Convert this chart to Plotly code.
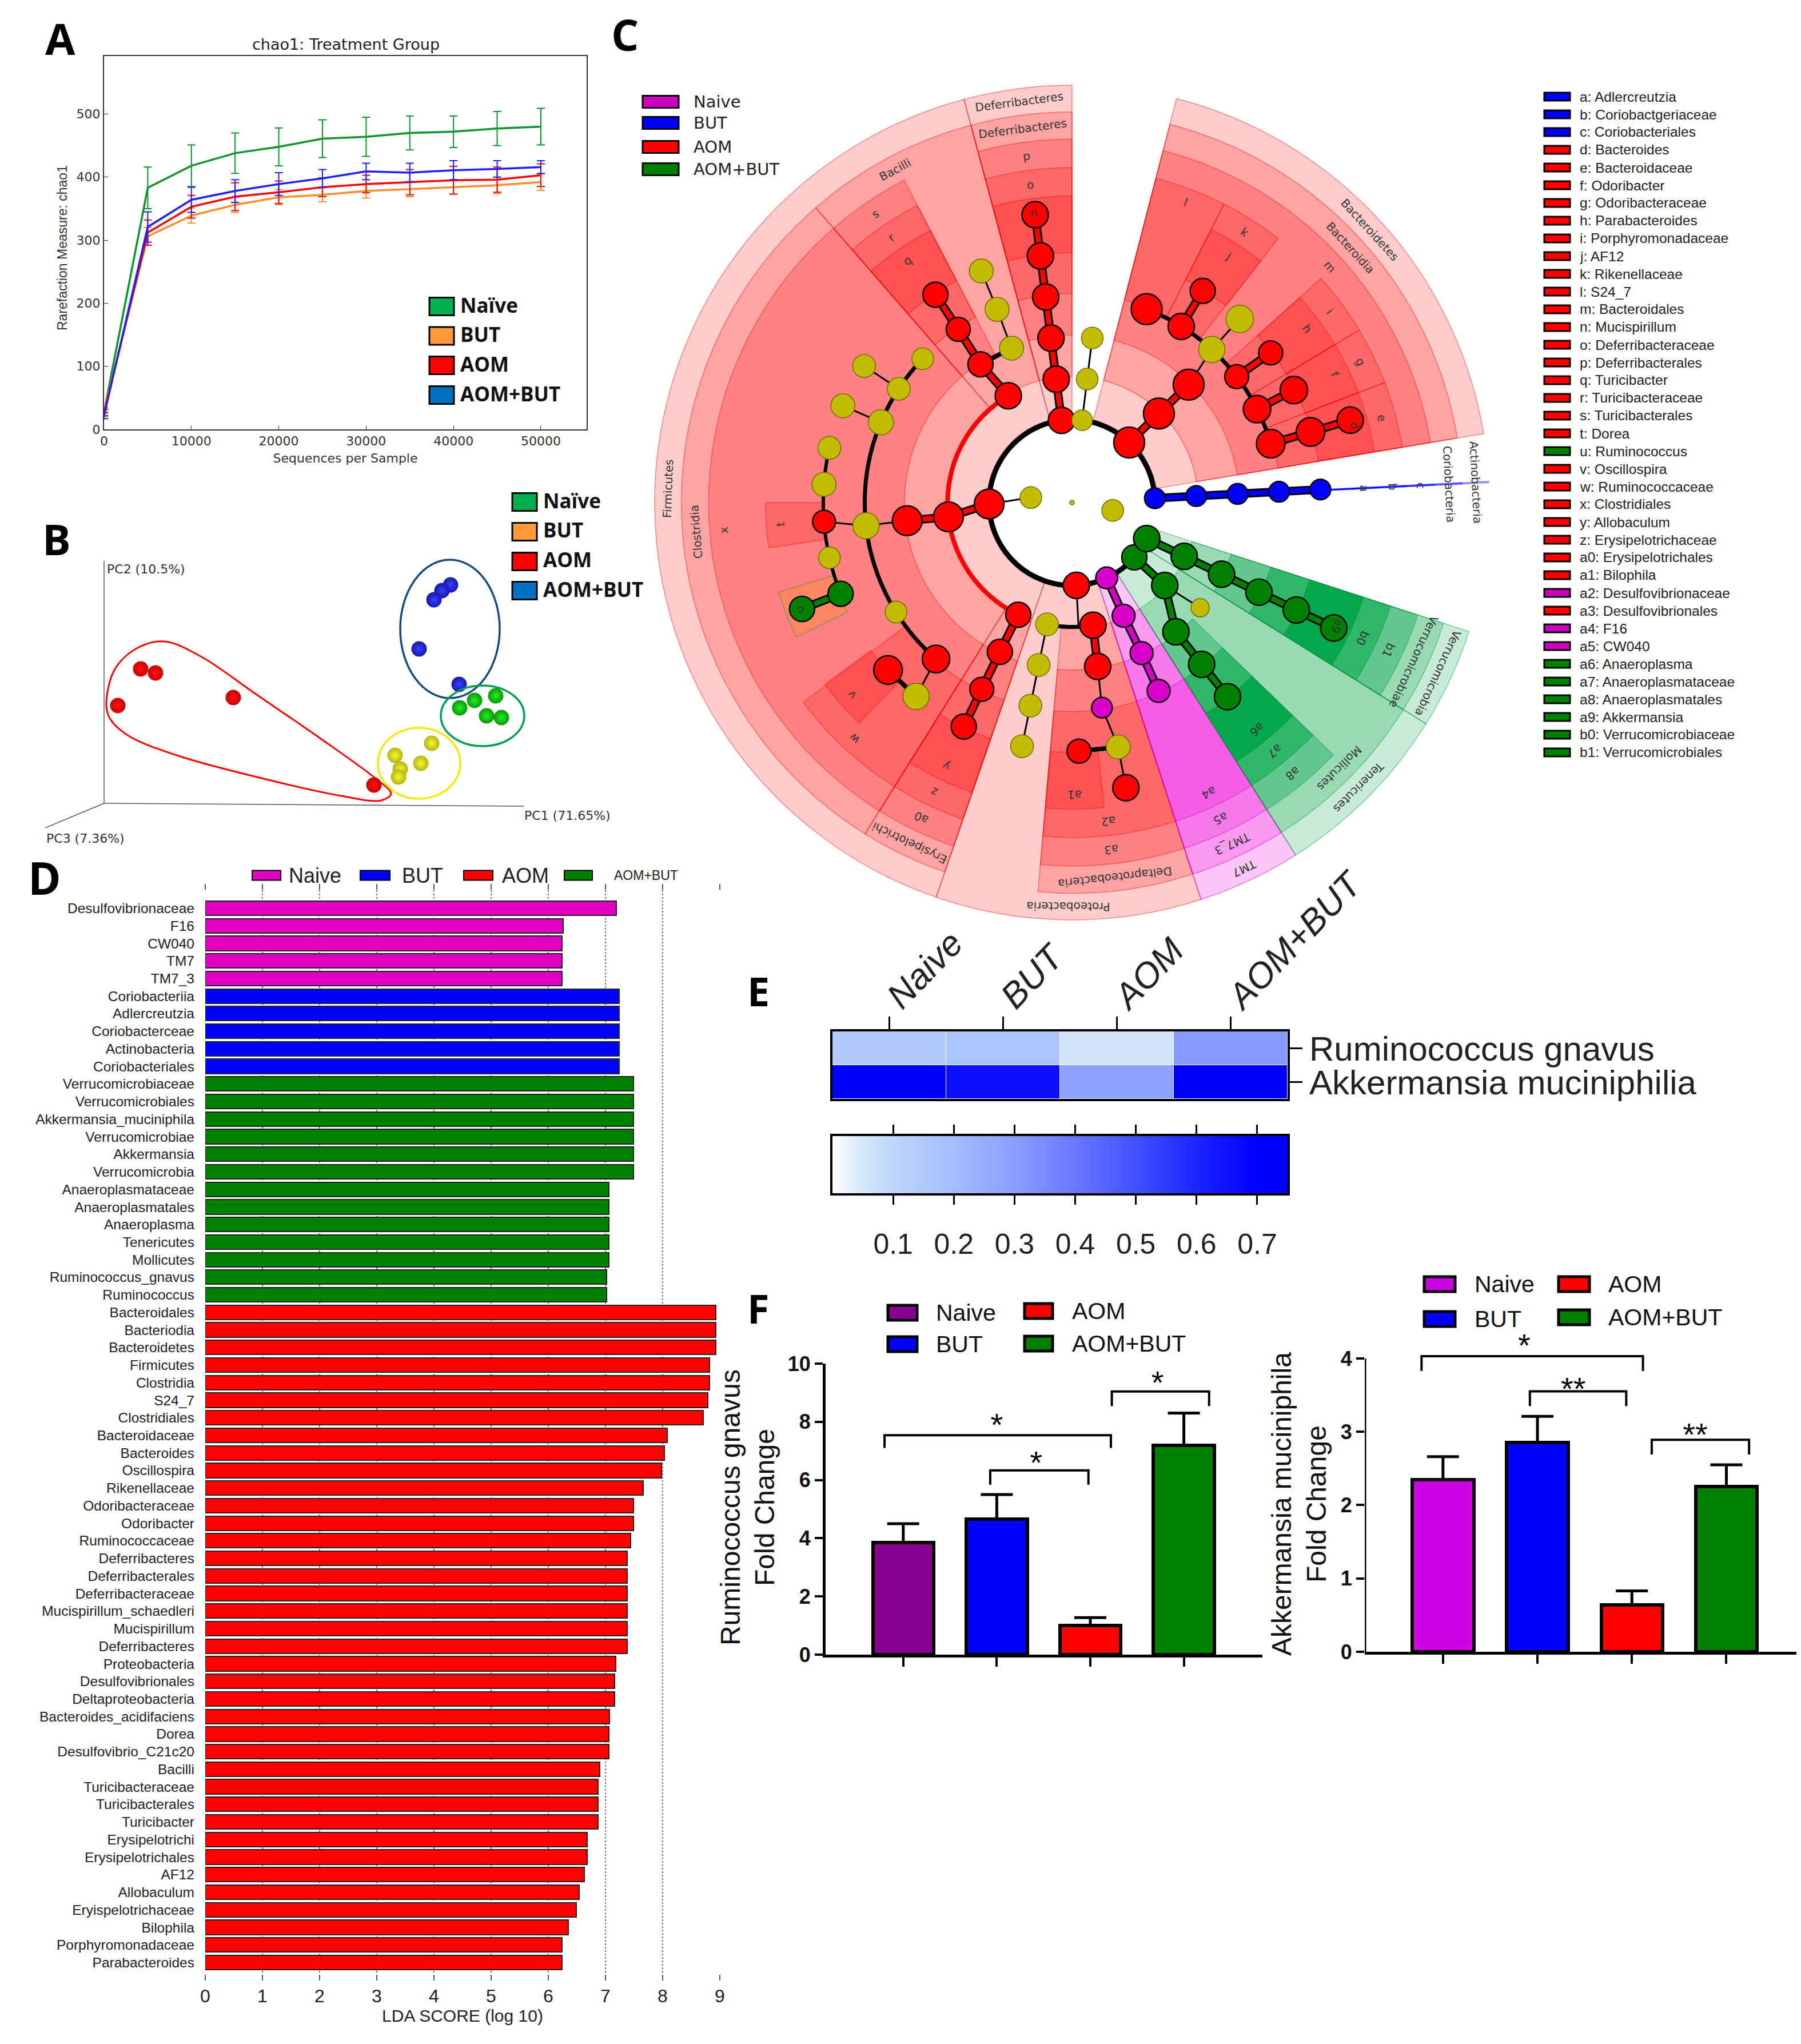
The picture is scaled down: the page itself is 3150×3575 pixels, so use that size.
import numpy as np
import plotly.graph_objects as go

W, H = 3150, 3575
OFF = 8  # the page body adds this much on the top and left
def dx(a, b): return [(a - OFF) / W, (b - OFF) / W]
def dy(top, bottom): return [1 - (bottom - OFF) / H, 1 - (top - OFF) / H]
def px(x): return (x - OFF) / W
def py(y): return 1 - (y - OFF) / H

SANS = "Liberation Sans"
DJ = "DejaVu Sans"
OPEN = "Open Sans"
GROUP_COLORS = {"Naive": "#d800c8", "BUT": "#0000ff", "AOM": "#ff0000", "AOM+BUT": "#008000", "ns": "#c4bc00"}

# ---------- A: rarefaction ----------
seqs = [0, 5000, 10000, 15000, 20000, 25000, 30000, 35000, 40000, 45000, 50000]
chao_naive = [28, 383, 418, 438, 448, 461, 464, 470, 472, 477, 480]
chao_naive_err = [6, 33, 33, 32, 30, 30, 31, 27, 25, 27, 29]
chao_aombut = [22, 321, 364, 378, 389, 398, 409, 407, 411, 413, 416]
chao_aombut_err = [5, 24, 20, 18, 18, 14, 13, 15, 15, 13, 10]
chao_aom = [26, 312, 353, 369, 376, 384, 389, 392, 395, 396, 403]
chao_aom_err = [5, 20, 18, 22, 18, 15, 14, 20, 22, 20, 18]
chao_but = [30, 306, 339, 356, 368, 372, 378, 381, 384, 387, 392]
chao_but_err = [5, 14, 12, 12, 12, 11, 11, 12, 11, 13, 13]

# ---------- B: PCoA ----------
pc_aom_1 = [24, 64, 90, 226, 472]
pc_aom_2 = [171, 235, 228, 185, 32]
pc_aombut_1 = [606, 591, 577, 551, 621]
pc_aombut_2 = [382, 372, 356, 270, 208]
pc_naive_1 = [622, 648, 685, 669, 695]
pc_naive_2 = [167, 180, 188, 153, 150]
pc_but_1 = [509, 518, 515, 554, 573]
pc_but_2 = [84, 60, 46, 70, 105]
aom_hull_1 = [4, 18, 57, 106, 169, 267, 379, 478, 502, 485, 415, 267, 127, 43, 11, 4]
aom_hull_2 = [171, 233, 271, 283, 257, 190, 113, 41, 17, 5, 13, 46, 84, 118, 147, 171]

# ---------- C: cladogram ----------
clade_label = ["Deferribacteres", "Firmicutes", "Proteobacteria", "TM7", "Tenericutes", "Verrucomicrobia", "Actinobacteria", "Bacteroidetes",
               "Deferribacteres", "Bacilli", "Clostridia", "Erysipelotrichi", "Deltaproteobacteria", "TM7_3", "Mollicutes", "Verrucomicrobiae", "Coriobacteria", "Bacteroidia",
               "p", "s", "x", "a0", "a3", "a5", "a8", "b1", "c", "m",
               "o", "r", "w", "z", "a2", "a4", "a7", "b0", "b", "e", "g", "i", "k", "l",
               "n", "q", "t", "u", "v", "y", "a1", "a6", "a9", "a", "d", "f", "h", "j"]
clade_lo = [90, 105, 251, 288, 302.4, 328, 2.7, 9.5,
            90, 105, 131, 238, 265, 288, 302.4, 328, 2.7, 9.5,
            90, 117.5, 131, 238, 265, 288, 302.4, 328, 2.7, 9.5,
            90, 117.5, 216.6, 238, 265, 288, 302.4, 328, 2.7, 9.5, 21, 31, 52, 63,
            90, 117.5, 180, 197, 216.3, 238, 265, 302.4, 328, 2.7, 9.5, 21, 31, 52]
clade_hi = [105, 251, 288, 302.4, 328, 342, 2.95, 75.5,
            105, 131, 238, 251, 288, 302.4, 328, 342, 2.95, 75.5,
            105, 131, 238, 251, 288, 302.4, 316, 342, 2.95, 75.5,
            105, 131, 238, 251, 288, 302.4, 316, 342, 2.95, 21, 31, 42, 63, 75.5,
            105, 131, 188.5, 206, 226, 251, 276, 316, 342, 2.95, 21, 31, 42, 63]
clade_rank = [1] * 8 + [2] * 10 + [3] * 10 + [4] * 14 + [5] * 14
clade_group = ["AOM", "AOM", "AOM", "Naive", "AOM+BUT", "AOM+BUT", "BUT", "AOM",
               "AOM", "AOM", "AOM", "AOM", "AOM", "Naive", "AOM+BUT", "AOM+BUT", "BUT", "AOM",
               "AOM", "AOM", "AOM", "AOM", "AOM", "Naive", "AOM+BUT", "AOM+BUT", "BUT", "AOM",
               "AOM", "AOM", "AOM", "AOM", "AOM", "Naive", "AOM+BUT", "AOM+BUT", "BUT", "AOM", "AOM", "AOM", "AOM", "AOM",
               "AOM", "AOM", "AOM", "AOM+BUT", "AOM", "AOM", "AOM", "AOM+BUT", "AOM+BUT", "BUT", "AOM", "AOM", "AOM", "AOM"]
rank_inner = {1: 150, 2: 222, 3: 295, 4: 368, 5: 440}
rank_outer = {1: 735, 2: 688, 3: 640, 4: 590, 5: 540}

node_theta = [0, 349, 173, 181,
              3, 3, 3, 3, 3,
              46.4, 45.7, 45.3, 47.6, 58.2, 68.9, 58.3, 47.6, 37.4, 37, 26.8, 26.9, 16.5, 16.5, 16.5,
              97.3, 97.3, 97.3, 97.3, 97.3, 97.3,
              83, 83, 83,
              273, 294.7, 318.7, 334.3,
              334.4, 334.4, 334.4, 334.4, 334.4,
              318.2, 320.6, 308.8, 308.7, 308.7,
              294.5, 294.8, 294.7,
              279.7, 258.4, 273, 258.4, 258.4, 258.4,
              278.9, 278.3, 280.7, 271.6, 280.7,
              186.6, 120.8, 244.4,
              123.5, 111.4, 111.2, 111.4, 123.3, 123.3,
              244.2, 244.2, 244.2,
              186.3, 186.4,
              157.2, 146.7, 136.1, 146.7, 157.1, 184.4, 175.8, 167.3, 192.8, 201.5, 201.5,
              211.9, 229, 231.2, 222.3]
node_level = [0, 1, 1, 2,
              2, 3, 4, 5, 6,
              2, 3, 4, 5, 5, 5, 6, 6, 5, 6, 5, 6, 5, 6, 7,
              2, 3, 4, 5, 6, 7,
              2, 3, 4,
              2, 2, 2, 2,
              3, 4, 5, 6, 7,
              3, 4, 4, 5, 6,
              3, 4, 5,
              3, 3, 3, 4, 5, 6,
              4, 5, 6, 6, 7,
              3, 3, 3,
              4, 4, 5, 6, 5, 6,
              4, 5, 6,
              4, 5,
              5, 5, 5, 6, 6, 6, 6, 6, 6, 6, 7,
              5, 5, 6, 6]
node_group = ["ns", "ns", "ns", "AOM"] + ["BUT"] * 5 + \
    ["AOM", "AOM", "AOM", "ns", "AOM", "AOM", "AOM", "ns", "AOM", "AOM", "AOM", "AOM", "AOM", "AOM", "AOM"] + \
    ["AOM"] * 6 + ["ns"] * 3 + ["AOM", "Naive", "AOM+BUT", "AOM+BUT"] + ["AOM+BUT"] * 5 + \
    ["AOM+BUT", "ns", "AOM+BUT", "AOM+BUT", "AOM+BUT"] + ["Naive"] * 3 + \
    ["AOM", "ns", "ns", "ns", "ns", "ns"] + ["AOM", "Naive", "ns", "AOM", "AOM"] + \
    ["AOM", "AOM", "AOM"] + ["AOM", "ns", "ns", "ns", "AOM", "AOM"] + ["AOM", "AOM", "AOM"] + \
    ["AOM", "ns"] + ["ns", "ns", "ns", "ns", "ns", "AOM", "ns", "ns", "ns", "AOM+BUT", "AOM+BUT"] + \
    ["ns", "AOM", "ns", "AOM"]
node_size = [8, 38, 38, 52,
             36, 36, 36, 36, 36,
             54, 54, 54, 46, 46, 54, 44, 48, 42, 42, 48, 48, 50, 50, 46,
             46, 46, 46, 46, 46, 46,
             36, 38, 38,
             46, 38, 44, 46,
             46, 46, 46, 46, 46,
             46, 32, 46, 46, 46,
             40, 40, 40,
             46, 40, 0, 40, 40, 40,
             46, 36, 42, 42, 46,
             52, 46, 44,
             44, 42, 42, 42, 42, 44,
             44, 42, 44,
             52, 46,
             44, 40, 38, 40, 42, 40, 42, 40, 38, 44, 44,
             38, 48, 46, 50]
node_parent = [-1, -1, 3, -1,
               -1, 4, 5, 6, 7,
               -1, 9, 10, 11, -1, -1, 13, 12, -1, 17, -1, 19, -1, 21, 22,
               -1, 24, 25, 26, 27, 28,
               -1, 30, 31,
               -1, -1, -1, -1,
               36, 37, 38, 39, 40,
               35, 42, 42, 44, 45,
               34, 47, 48,
               -1, -1, 33, 51, 53, 54,
               50, 56, 57, 58, 58,
               3, -1, -1,
               62, 64, 65, 66, 64, 68,
               63, 70, 71,
               61, 73,
               -1, -1, -1, 76, 75, 74, -1, -1, -1, -1, 84,
               -1, -1, 87, 88]
heavy_black_edges = [65, 59, 89]
arc_level = [2, 3, 3, 5, 5, 6]
arc_from = [3, 120.8, 258.4, 16.5, 136.1, 167.3]
arc_to = [334.3, 244.4, 279.7, 68.9, 229, 201.5]
arc_color = ["#000000", "#ff0000", "#000000", "#000000", "#000000", "#000000"]
arc_width = [9, 8, 7, 7, 7, 6]

taxa_keys = ["a: Adlercreutzia", "b: Coriobactgeriaceae", "c: Coriobacteriales", "d: Bacteroides", "e: Bacteroidaceae", "f: Odoribacter",
             "g: Odoribacteraceae", "h: Parabacteroides", "i: Porphyromonadaceae", "j: AF12", "k: Rikenellaceae", "l: S24_7", "m: Bacteroidales",
             "n: Mucispirillum", "o: Deferribacteraceae", "p: Deferribacterales", "q: Turicibacter", "r: Turicibacteraceae", "s: Turicibacterales",
             "t: Dorea", "u: Ruminococcus", "v: Oscillospira", "w: Ruminococcaceae", "x: Clostridiales", "y: Allobaculum", "z: Erysipelotrichaceae",
             "a0: Erysipelotrichales", "a1: Bilophila", "a2: Desulfovibrionaceae", "a3: Desulfovibrionales", "a4: F16", "a5: CW040", "a6: Anaeroplasma",
             "a7: Anaeroplasmataceae", "a8: Anaeroplasmatales", "a9: Akkermansia", "b0: Verrucomicrobiaceae", "b1: Verrucomicrobiales"]
taxa_key_group = ["BUT"] * 3 + ["AOM"] * 17 + ["AOM+BUT"] + ["AOM"] * 7 + ["Naive", "AOM", "Naive", "Naive"] + ["AOM+BUT"] * 6

# ---------- D: LDA ----------
lda_names = ["Desulfovibrionaceae", "F16", "CW040", "TM7", "TM7_3",
             "Coriobacteriia", "Adlercreutzia", "Coriobacterceae", "Actinobacteria", "Coriobacteriales",
             "Verrucomicrobiaceae", "Verrucomicrobiales", "Akkermansia_muciniphila", "Verrucomicrobiae", "Akkermansia", "Verrucomicrobia",
             "Anaeroplasmataceae", "Anaeroplasmatales", "Anaeroplasma", "Tenericutes", "Mollicutes", "Ruminococcus_gnavus", "Ruminococcus",
             "Bacteroidales", "Bacteriodia", "Bacteroidetes", "Firmicutes", "Clostridia", "S24_7", "Clostridiales", "Bacteroidaceae", "Bacteroides",
             "Oscillospira", "Rikenellaceae", "Odoribacteraceae", "Odoribacter", "Ruminococcaceae", "Deferribacteres", "Deferribacterales",
             "Deferribacteraceae", "Mucispirillum_schaedleri", "Mucispirillum", "Deferribacteres", "Proteobacteria", "Desulfovibrionales",
             "Deltaproteobacteria", "Bacteroides_acidifaciens", "Dorea", "Desulfovibrio_C21c20", "Bacilli", "Turicibacteraceae", "Turicibacterales",
             "Turicibacter", "Erysipelotrichi", "Erysipelotrichales", "AF12", "Allobaculum", "Eryispelotrichaceae", "Bilophila", "Porphyromonadaceae",
             "Parabacteroides"]
lda_scores = [7.19, 6.26, 6.24, 6.24, 6.24,
              7.24, 7.24, 7.24, 7.24, 7.24,
              7.49, 7.49, 7.49, 7.49, 7.49, 7.49,
              7.06, 7.06, 7.06, 7.06, 7.06, 7.02, 7.02,
              8.93, 8.93, 8.93, 8.82, 8.82, 8.79, 8.71, 8.08, 8.03,
              7.98, 7.66, 7.49, 7.49, 7.44, 7.38, 7.38,
              7.38, 7.38, 7.38, 7.38, 7.18, 7.16,
              7.16, 7.07, 7.06, 7.06, 6.9, 6.87, 6.87,
              6.87, 6.68, 6.68, 6.63, 6.54, 6.49, 6.35, 6.24,
              6.24]
lda_group = ["Naive"] * 5 + ["BUT"] * 5 + ["AOM+BUT"] * 13 + ["AOM"] * 38

# ---------- E: heatmap ----------
heat_cols = ["Naive", "BUT", "AOM", "AOM+BUT"]
heat_rows = ["Ruminococcus gnavus", "Akkermansia muciniphilia"]
heat_vals = [[0.15, 0.17, 0.06, 0.31], [0.75, 0.66, 0.29, 0.73]]
heat_ticks = [0.1, 0.2, 0.3, 0.4, 0.5, 0.6, 0.7]
heat_scale = [[0, "#ffffff"], [0.06, "#d8e9fa"], [0.13, "#bdd6f9"], [0.27, "#a4bcff"], [0.4, "#8a9eff"],
              [0.53, "#6878ff"], [0.67, "#4050ff"], [0.8, "#1c24ff"], [0.93, "#0000ff"], [1, "#0000ff"]]

# ---------- F: fold change ----------
fold_groups = ["Naive", "BUT", "AOM", "AOM+BUT"]
rg_fold = [3.85, 4.65, 1.0, 7.2]
rg_err = [0.65, 0.85, 0.27, 1.1]
am_fold = [2.35, 2.85, 0.64, 2.25]
am_err = [0.31, 0.36, 0.19, 0.3]
rg_colors = ["#880090", "#0000ff", "#ff0000", "#008000"]
am_colors = ["#cc00e0", "#0000ff", "#ff0000", "#008000"]

fig = go.Figure()
shapes, annos = [], []

def text(x, y, s, size, font=SANS, color="#111", anchor="left", bold=False, angle=0, italic=False):
    if bold:
        s = "<b>%s</b>" % s
    if italic:
        s = "<i>%s</i>" % s
    annos.append(dict(x=px(x), y=py(y), xref="paper", yref="paper", text=s, showarrow=False, xanchor=anchor, yanchor="middle",
                      textangle=angle, font=dict(family=font, size=size, color=color)))

def swatch(x0, x1, yc, h, color, lw=3):
    shapes.append(dict(type="rect", xref="paper", yref="paper", x0=px(x0), x1=px(x1), y0=py(yc + h / 2), y1=py(yc - h / 2),
                       fillcolor=color, line=dict(color="#000", width=lw)))

# panel letters
for s, x, y, sz in [("A", 105, 66, 76), ("B", 99, 943, 74), ("C", 1093, 60, 76), ("D", 78, 1535, 78), ("E", 1326, 1733, 70), ("F", 1326, 2288, 70)]:
    text(x, y, s, sz, font=OPEN, anchor="center", bold=True, color="#000")

# ---------- A ----------
for name, y, e, c in [("Naïve", chao_naive, chao_naive_err, "#0a962c"), ("BUT", chao_but, chao_but_err, "#ff8c2e"),
                      ("AOM", chao_aom, chao_aom_err, "#ff0000"), ("AOM+BUT", chao_aombut, chao_aombut_err, "#2020ff")]:
    fig.add_trace(go.Scatter(x=seqs, y=y, mode="lines", name=name, showlegend=False, line=dict(color=c, width=3.5),
                             error_y=dict(type="data", array=e, color=c, thickness=2, width=7), xaxis="x", yaxis="y"))
axis_a = dict(showline=True, linecolor="#333", linewidth=2, mirror=True, ticks="inside", ticklen=7, tickcolor="#333", showgrid=False, zeroline=False,
              tickformat="d", tickfont=dict(family=DJ, size=22, color="#333"))
layout_axes = {}
layout_axes["xaxis"] = dict(axis_a, domain=dx(182, 1026), range=[0, 55240], tickvals=[0, 10000, 20000, 30000, 40000, 50000], anchor="y",
                            title=dict(text="Sequences per Sample", font=dict(family=DJ, size=22, color="#333"), standoff=10))
layout_axes["yaxis"] = dict(axis_a, domain=dy(98, 751), range=[0, 592], tickvals=[0, 100, 200, 300, 400, 500], anchor="x")
text(109, 434, "Rarefaction Measure: chao1", 23, font=SANS, color="#333", anchor="center", angle=-90)
text(605, 78, "chao1: Treatment Group", 27, font=DJ, anchor="center", color="#222")
for lab, c, yy in [("Naïve", "#00b050", 536), ("BUT", "#ff9a3c", 587.5), ("AOM", "#ff0000", 639), ("AOM+BUT", "#0070c0", 691)]:
    swatch(751, 794, yy, 31, c)
    text(803, yy - 3, lab, 35, font=OPEN, bold=True, color="#111")

# ---------- B ----------
for x, y in [([0, 0], [0, 424]), ([0, 734], [0, -5]), ([0, -103], [0, -43])]:
    fig.add_trace(go.Scatter(x=x, y=y, mode="lines", line=dict(color="#555", width=1.5), showlegend=False, xaxis="x2", yaxis="y2"))
fig.add_trace(go.Scatter(x=aom_hull_1, y=aom_hull_2, mode="lines", line=dict(color="#ff0000", width=3, shape="spline", smoothing=1),
                         showlegend=False, xaxis="x2", yaxis="y2"))
for x, y, rim, core in [(pc_aom_1, pc_aom_2, "#c80000", "#ff1414"), (pc_aombut_1, pc_aombut_2, "#1a1aa8", "#3040ff"),
                        (pc_naive_1, pc_naive_2, "#0a960a", "#20f420"), (pc_but_1, pc_but_2, "#b4b414", "#f8f830")]:
    fig.add_trace(go.Scatter(x=x, y=y, mode="markers", showlegend=False, xaxis="x2", yaxis="y2",
                             marker=dict(size=27, color=rim, line=dict(width=0), gradient=dict(type="radial", color=core))))
for (cx0, cy0, rx, ry, c) in [(605, 305, 87, 121, "#174a7c"), (662, 153, 73, 53, "#00a050"), (551, 70, 72, 62, "#f2ea00")]:
    shapes.append(dict(type="circle", xref="x2", yref="y2", x0=cx0 - rx, x1=cx0 + rx, y0=cy0 - ry, y1=cy0 + ry, line=dict(color=c, width=3.5)))
hidden = dict(visible=False, showgrid=False, zeroline=False)
layout_axes["xaxis2"] = dict(hidden, domain=dx(79, 1000), range=[-103, 818], anchor="y2")
layout_axes["yaxis2"] = dict(hidden, domain=dy(960, 1480), range=[-75, 445], anchor="x2")
text(185, 995, "PC2 (10.5%)", 22, font=DJ, color="#333")
text(915, 1426, "PC1 (71.65%)", 22, font=DJ, color="#333")
text(79, 1466, "PC3 (7.36%)", 22, font=DJ, color="#333")
for lab, c, yy in [("Naïve", "#00b050", 878), ("BUT", "#ff9a3c", 930), ("AOM", "#ff0000", 982), ("AOM+BUT", "#0070c0", 1033)]:
    swatch(896, 939, yy, 31, c)
    text(948, yy - 3, lab, 35, font=OPEN, bold=True, color="#111")

# ---------- C ----------
CX, CY, HALF, RMAX = 1875, 879, 735, 740
def wedge_fill(i):
    g, rk = clade_group[i], clade_rank[i]
    if clade_label[i] == "u":
        return "rgba(255,150,40,0.35)"
    if g == "AOM+BUT":
        return "rgba(0,165,70,%.2f)" % {1: 0.22, 2: 0.24, 3: 0.35, 4: 0.5, 5: 0.92}[rk]
    return {"AOM": "rgba(255,0,0,0.2)", "Naive": "rgba(235,0,215,0.22)", "BUT": "rgba(0,0,255,0.4)"}[g]
edge_rgba = {"AOM": "rgba(255,0,0,0.42)", "Naive": "rgba(235,0,215,0.5)", "AOM+BUT": "rgba(0,140,60,0.42)", "BUT": "rgba(0,0,255,0.2)"}
for rk in [1, 2, 3, 4, 5]:
    idx = [i for i, v in enumerate(clade_rank) if v == rk]
    fig.add_trace(go.Barpolar(
        theta=[(clade_lo[i] + clade_hi[i]) / 2 for i in idx],
        width=[clade_hi[i] - clade_lo[i] for i in idx],
        base=[rank_inner[rk]] * len(idx),
        r=[rank_outer[rk] - rank_inner[rk]] * len(idx),
        marker=dict(color=[wedge_fill(i) for i in idx],
                    line=dict(color=[edge_rgba[clade_group[i]] for i in idx], width=1.5)),
        showlegend=False, hoverinfo="skip", subplot="polar"))
    for i in idx:
        r_lab = (rank_outer[rk] + (rank_outer[rk + 1] if rk < 5 else 490)) / 2
        th = (clade_lo[i] + clade_hi[i]) / 2
        k = HALF / RMAX
        xx = CX + r_lab * k * np.cos(np.radians(th))
        yy = CY - r_lab * k * np.sin(np.radians(th))
        text(float(xx), float(yy), clade_label[i], 20, font=DJ, color="#333", anchor="center", angle=90 - th)

lvl_r = 73
for lv, a, b, c, w in zip(arc_level, arc_from, arc_to, arc_color, arc_width):
    th = np.arange(a, b + 1, 1.0)
    fig.add_trace(go.Scatterpolar(theta=th, r=[lv * lvl_r] * len(th), mode="lines", line=dict(color=c, width=w),
                                  showlegend=False, hoverinfo="skip", subplot="polar"))
thin_t, thin_r, blk_t, blk_r = [], [], [], []
for i, p in enumerate(node_parent):
    if p < 0:
        continue
    a = [node_theta[p], node_theta[i], None]
    b = [node_level[p] * lvl_r, node_level[i] * lvl_r, None]
    if i in heavy_black_edges:
        blk_t += a; blk_r += b
    elif node_group[i] == node_group[p] and node_group[i] != "ns":
        fig.add_trace(go.Scatterpolar(theta=a[:2], r=b[:2], mode="lines", line=dict(color="#000", width=15), showlegend=False, hoverinfo="skip", subplot="polar"))
        fig.add_trace(go.Scatterpolar(theta=a[:2], r=b[:2], mode="lines", line=dict(color=GROUP_COLORS[node_group[i]], width=9), showlegend=False, hoverinfo="skip", subplot="polar"))
    else:
        thin_t += a; thin_r += b
fig.add_trace(go.Scatterpolar(theta=thin_t, r=thin_r, mode="lines", line=dict(color="#000", width=3), showlegend=False, hoverinfo="skip", subplot="polar"))
fig.add_trace(go.Scatterpolar(theta=blk_t, r=blk_r, mode="lines", line=dict(color="#000", width=8), showlegend=False, hoverinfo="skip", subplot="polar"))
fig.add_trace(go.Scatterpolar(
    theta=node_theta, r=[v * lvl_r for v in node_level], mode="markers", showlegend=False, hoverinfo="skip", subplot="polar",
    marker=dict(size=node_size, opacity=1, color=[GROUP_COLORS[g] for g in node_group],
                line=dict(width=[0 if s == 0 else (1.5 if g == "ns" else 2.5) for s, g in zip(node_size, node_group)],
                          color=["#6f6a00" if g == "ns" else "#000" for g in node_group]))))
for lab, c, yy in [("Naive", "#d000c0", 178), ("BUT", "#0000ff", 215), ("AOM", "#ff0000", 257), ("AOM+BUT", "#008000", 296)]:
    swatch(1124, 1187, yy, 21, c, lw=3)
    text(1211, yy, lab, 29, font=DJ, color="#222")
for i, (lab, g) in enumerate(zip(taxa_keys, taxa_key_group)):
    yy = 169 + i * 31
    swatch(2701, 2746, yy, 14, GROUP_COLORS[g] if g != "Naive" else "#d000c0", lw=3)
    text(2761, yy, lab, 24.5, font=SANS, color="#222")

# ---------- D ----------
ypos = list(range(len(lda_names)))
fig.add_trace(go.Bar(y=ypos, x=lda_scores, orientation="h", width=0.82, showlegend=False, xaxis="x3", yaxis="y3",
                     marker=dict(color=[GROUP_COLORS[g] if g != "Naive" else "#e000c0" for g in lda_group], line=dict(color="#222", width=2))))
layout_axes["xaxis3"] = dict(domain=dx(359, 1259), range=[0, 9], tickvals=list(range(10)), anchor="y3", showline=False, zeroline=False,
                             showgrid=True, gridcolor="#777", griddash="dot", gridwidth=2, ticks="outside", ticklen=10, tickcolor="#555", tickwidth=2, mirror="ticks",
                             tickfont=dict(family=SANS, size=32, color="#222"),
                             title=dict(text="LDA SCORE (log 10)", font=dict(family=SANS, size=30, color="#222"), standoff=6))
layout_axes["yaxis3"] = dict(domain=dy(1557, 3453), range=[60.67, -1.025], tickvals=ypos, ticktext=lda_names, anchor="x3", showline=False, showgrid=False, zeroline=False,
                             ticks="", ticklabelstandoff=18, tickfont=dict(family=SANS, size=24.5, color="#222"))
for (a, b, tx, lab, c, sz) in [(441, 491, 503, "Naive", "#e000c0", 36), (630, 682, 701, "BUT", "#0000ff", 36), (811, 862, 876, "AOM", "#ff0000", 36), (987, 1036, 1072, "AOM+BUT", "#008000", 23)]:
    swatch(a, b, 1531, 17, c, lw=2)
    text(tx, 1531, lab, sz, font=SANS, color="#222")

# ---------- E ----------
fig.add_trace(go.Heatmap(z=heat_vals, x=heat_cols, y=heat_rows, zmin=0, zmax=0.75, colorscale=heat_scale, showscale=False, xgap=1, ygap=1, xaxis="x4", yaxis="y4"))
layout_axes["xaxis4"] = dict(domain=dx(1456, 2252), anchor="y4", side="top", showline=True, linecolor="#000", linewidth=4, mirror=True, ticks="outside", ticklen=22, tickwidth=3,
                             tickcolor="#000", tickangle=-46, ticklabelstandoff=-24, tickfont=dict(family=SANS, size=62, color="#222", style="italic"), showgrid=False)
layout_axes["yaxis4"] = dict(domain=dy(1804, 1922), anchor="x4", side="right", autorange="reversed", showline=True, linecolor="#000", linewidth=4, mirror=True, ticks="outside", ticklen=22, tickwidth=3,
                             tickmode="array", tickvals=heat_rows, ticktext=heat_rows,
                             tickcolor="#000", tickfont=dict(family=SANS, size=60, color="#222"), showgrid=False)
ramp = np.arange(0, 0.7501, 0.005)
fig.add_trace(go.Heatmap(z=[ramp, ramp], x=ramp, y=[0, 1], zmin=0, zmax=0.75, zsmooth="best", colorscale=heat_scale, showscale=False, xaxis="x5", yaxis="y5", hoverinfo="skip"))
layout_axes["xaxis5"] = dict(domain=dx(1456, 2252), anchor="y5", range=[0, 0.75], tickvals=heat_ticks, showline=True, linecolor="#000", linewidth=4, mirror="allticks",
                             ticks="outside", ticklen=16, tickwidth=3, tickcolor="#000", ticklabelstandoff=26, showgrid=False, zeroline=False,
                             tickformat=".1f", tickfont=dict(family=SANS, size=50, color="#222"))
layout_axes["yaxis5"] = dict(domain=dy(1987, 2087), anchor="x5", range=[0, 1], showline=True, linecolor="#000", linewidth=4, mirror=True, ticks="", showticklabels=False, showgrid=False, zeroline=False)

# ---------- F ----------
def fold_panel(ax_x, ax_y, vals, errs, colors, dom_x, dom_y, xr, yr, ytv, brackets, stars, spine_top=None):
    fig.add_trace(go.Bar(x=list(range(4)), y=vals, width=0.65, showlegend=False, xaxis=ax_x, yaxis=ax_y,
                         marker=dict(color=colors, line=dict(color="#000", width=6)),
                         error_y=dict(type="data", symmetric=False, array=errs, arrayminus=[0] * 4, color="#000", thickness=5, width=28)))
    for (a, b, top, leg) in brackets:
        fig.add_trace(go.Scatter(x=[a, a, b, b], y=[leg, top, top, leg], mode="lines", line=dict(color="#000", width=4), showlegend=False,
                                 cliponaxis=False, xaxis=ax_x, yaxis=ax_y))
    fig.add_trace(go.Scatter(x=[s[0] for s in stars], y=[s[1] for s in stars], text=[s[2] for s in stars], mode="text", cliponaxis=False, showlegend=False,
                             textfont=dict(family=SANS, size=56, color="#000"), textposition="middle center", xaxis=ax_x, yaxis=ax_y))
    if spine_top is not None:
        fig.add_trace(go.Scatter(x=[xr[0], xr[0]], y=[0, spine_top], mode="lines", line=dict(color="#000", width=5), cliponaxis=False, showlegend=False, xaxis=ax_x, yaxis=ax_y))
    n = ax_x[1:]
    layout_axes["xaxis" + n] = dict(domain=dom_x, range=xr, anchor=ax_y, tickvals=list(range(4)), showticklabels=False, ticks="outside", ticklen=16, tickwidth=4, tickcolor="#000",
                                    showline=True, linecolor="#000", linewidth=5, showgrid=False, zeroline=False)
    layout_axes["yaxis" + n] = dict(domain=dom_y, range=yr, anchor=ax_x, tickvals=ytv, ticks="outside", ticklen=14, tickwidth=4, tickcolor="#000",
                                    showline=spine_top is None, linecolor="#000", linewidth=5, showgrid=False, zeroline=False,
                                    tickfont=dict(family=SANS, size=36, color="#111", weight="bold"))

fold_panel("x6", "y6", rg_fold, rg_err, rg_colors, dx(1444, 2208), dy(2385, 2894), [-0.83, 3.84], [0, 10], [0, 2, 4, 6, 8, 10],
           [(-0.2, 2.22, 7.54, 7.1), (0.93, 1.98, 6.33, 5.84), (2.23, 3.27, 9.04, 8.54)],
           [(1.0, 7.8, "*"), (1.42, 6.5, "*"), (2.72, 9.25, "*")])
fold_panel("x7", "y7", am_fold, am_err, am_colors, dx(2387, 3150), dy(2331, 2889), [-0.828, 3.79], [0, 4.35], [0, 1, 2, 3, 4],
           [(-0.227, 2.117, 4.03, 3.83), (0.92, 1.94, 3.55, 3.35), (2.21, 3.24, 2.89, 2.69)],
           [(0.86, 4.14, "*"), (1.38, 3.55, "**"), (2.67, 2.92, "**")], spine_top=4)
text(1277, 2637, "Ruminococcus gnavus", 48, anchor="center", angle=-90)
text(1337, 2637, "Fold Change", 48, anchor="center", angle=-90)
text(2241, 2631, "Akkermansia muciniphila", 48, anchor="center", angle=-90)
text(2302, 2631, "Fold Change", 48, anchor="center", angle=-90)
for (a, b, tx, lab, c, yy) in [(1553, 1604, 1635, "Naive", "#880090", 2296), (1553, 1604, 1635, "BUT", "#0000ff", 2351),
                               (1792, 1841, 1873, "AOM", "#ff0000", 2293), (1792, 1841, 1873, "AOM+BUT", "#008000", 2350),
                               (2491, 2545, 2577, "Naive", "#cc00e0", 2246), (2491, 2545, 2577, "BUT", "#0000ff", 2307),
                               (2726, 2780, 2811, "AOM", "#ff0000", 2246), (2726, 2780, 2811, "AOM+BUT", "#008000", 2304)]:
    swatch(a, b, yy, 26, c, lw=5)
    text(tx, yy, lab, 41, font=SANS, color="#111")

for ax in layout_axes.values():
    ax["automargin"] = False

fig.update_layout(
    width=W, height=H, margin=dict(l=0, r=0, t=0, b=0), paper_bgcolor="white", plot_bgcolor="white", showlegend=False,
    bargap=0, shapes=shapes, annotations=annos,
    polar=dict(domain=dict(x=dx(CX - HALF, CX + HALF), y=dy(CY - HALF, CY + HALF)), bgcolor="rgba(0,0,0,0)", barmode="overlay",
               radialaxis=dict(visible=False, range=[0, RMAX]), angularaxis=dict(visible=False, rotation=0, direction="counterclockwise")),
    **layout_axes)
fig.write_html("out.html")
